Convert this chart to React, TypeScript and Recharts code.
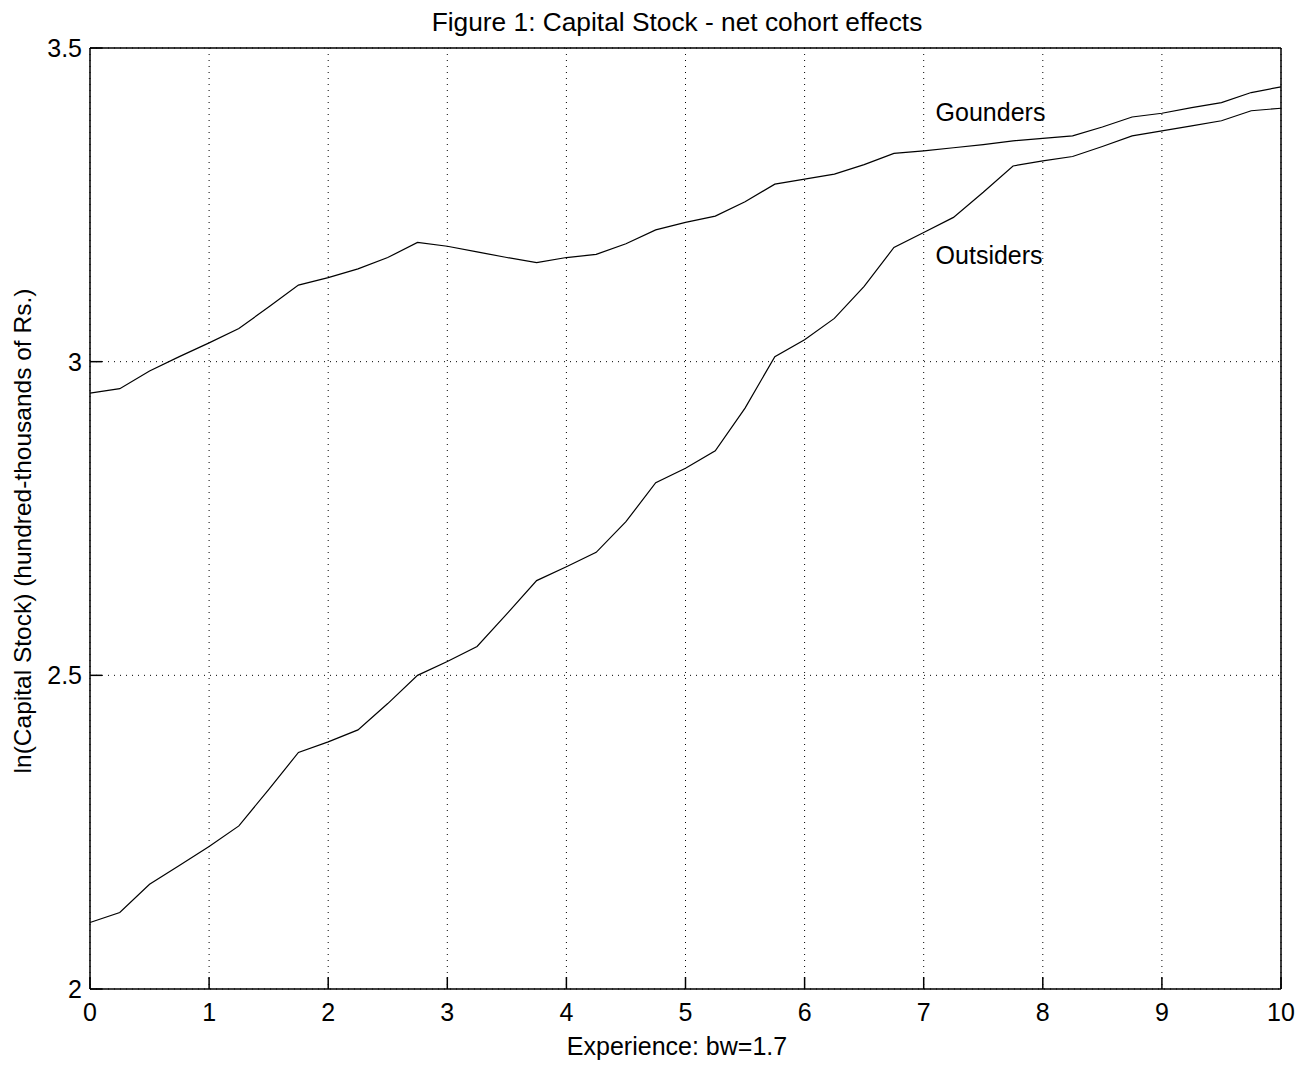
import React from 'react';
import {
  LineChart,
  Line,
  XAxis,
  YAxis,
  CartesianGrid,
  ReferenceDot,
} from 'recharts';

const experience = [
  0, 0.25, 0.5, 0.75, 1, 1.25, 1.5, 1.75, 2, 2.25, 2.5, 2.75, 3, 3.25, 3.5, 3.75,
  4, 4.25, 4.5, 4.75, 5, 5.25, 5.5, 5.75, 6, 6.25, 6.5, 6.75, 7, 7.25, 7.5, 7.75,
  8, 8.25, 8.5, 8.75, 9, 9.25, 9.5, 9.75, 10,
];

const gounders = [
  2.95, 2.957, 2.985, 3.008, 3.03, 3.053, 3.087, 3.122, 3.134, 3.148, 3.166, 3.19,
  3.184, 3.175, 3.166, 3.158, 3.166, 3.171, 3.188, 3.21, 3.222, 3.232, 3.255, 3.283,
  3.291, 3.299, 3.314, 3.332, 3.336, 3.341, 3.346, 3.352, 3.356, 3.36, 3.374, 3.39,
  3.396, 3.405, 3.413, 3.429, 3.438,
];

const outsiders = [
  2.106, 2.122, 2.167, 2.197, 2.227, 2.26, 2.318, 2.377, 2.394, 2.413, 2.455, 2.5,
  2.522, 2.546, 2.598, 2.651, 2.673, 2.696, 2.745, 2.807, 2.83, 2.858, 2.926, 3.008,
  3.035, 3.069, 3.12, 3.182, 3.206, 3.23, 3.27, 3.312, 3.32, 3.327, 3.343, 3.36,
  3.368, 3.376, 3.384, 3.4, 3.404,
];

const xTicks = [0, 1, 2, 3, 4, 5, 6, 7, 8, 9, 10];
const yTicks = [2, 2.5, 3, 3.5];

const data = experience.map((x, i) => ({ x, gounders: gounders[i], outsiders: outsiders[i] }));

const FONT = '"Liberation Sans", Arial, sans-serif';
const tickStyle = { fontSize: 25, fill: '#000', fontFamily: FONT };
const axisStroke = { stroke: '#000', strokeWidth: 1.5 };

const seriesLabel = (text: string) => (props: any) => {
  const vb = props.viewBox || {};
  return (
    <text x={vb.x} y={vb.y} fontSize={25} fontFamily={FONT} fill="#000" textAnchor="start">
      {text}
    </text>
  );
};

export default function App() {
  return (
    <div style={{ position: 'absolute', left: 0, top: 0, background: '#fff' }}>
      <LineChart
        width={1309}
        height={1065}
        data={data}
        margin={{ top: 47, right: 27, left: 0, bottom: 0 }}
        style={{ fontFamily: FONT }}
      >
        <CartesianGrid stroke="#000" strokeDasharray="1 5" />
        <XAxis
          dataKey="x"
          type="number"
          domain={[0, 10]}
          ticks={xTicks}
          height={76}
          tickSize={-12}
          tickMargin={26}
          tick={tickStyle}
          axisLine={axisStroke}
          tickLine={axisStroke}
          label={() => (
            <text x={677} y={1055} fontSize={25} fontFamily={FONT} fill="#000" textAnchor="middle">
              Experience: bw=1.7
            </text>
          )}
        />
        <XAxis
          xAxisId="top"
          orientation="top"
          dataKey="x"
          type="number"
          domain={[0, 10]}
          ticks={xTicks}
          height={1}
          tickSize={-12}
          tick={false}
          axisLine={axisStroke}
          tickLine={axisStroke}
        />
        <YAxis
          type="number"
          domain={[2, 3.5]}
          ticks={yTicks}
          width={90}
          tickSize={-12}
          tickMargin={20}
          tick={tickStyle}
          axisLine={axisStroke}
          tickLine={axisStroke}
          label={() => (
            <text
              x={31}
              y={531}
              transform="rotate(-90 31 531)"
              fontSize={24.5}
              fontFamily={FONT}
              fill="#000"
              textAnchor="middle"
            >
              ln(Capital Stock) (hundred-thousands of Rs.)
            </text>
          )}
        />
        <YAxis
          yAxisId="right"
          orientation="right"
          type="number"
          domain={[2, 3.5]}
          ticks={yTicks}
          width={1}
          tickSize={-12}
          tick={false}
          axisLine={axisStroke}
          tickLine={axisStroke}
        />
        <Line
          type="linear"
          dataKey="gounders"
          stroke="#000"
          strokeWidth={1.2}
          dot={false}
          isAnimationActive={false}
        />
        <Line
          type="linear"
          dataKey="outsiders"
          stroke="#000"
          strokeWidth={1.2}
          dot={false}
          isAnimationActive={false}
        />
        <ReferenceDot x={7.1} y={3.383} r={0} fill="none" stroke="none" label={seriesLabel('Gounders')} />
        <ReferenceDot x={7.1} y={3.156} r={0} fill="none" stroke="none" label={seriesLabel('Outsiders')} />
        <text x={677} y={31} fontSize={26.3} fontFamily={FONT} fill="#000" textAnchor="middle">
          Figure 1: Capital Stock - net cohort effects
        </text>
      </LineChart>
    </div>
  );
}
